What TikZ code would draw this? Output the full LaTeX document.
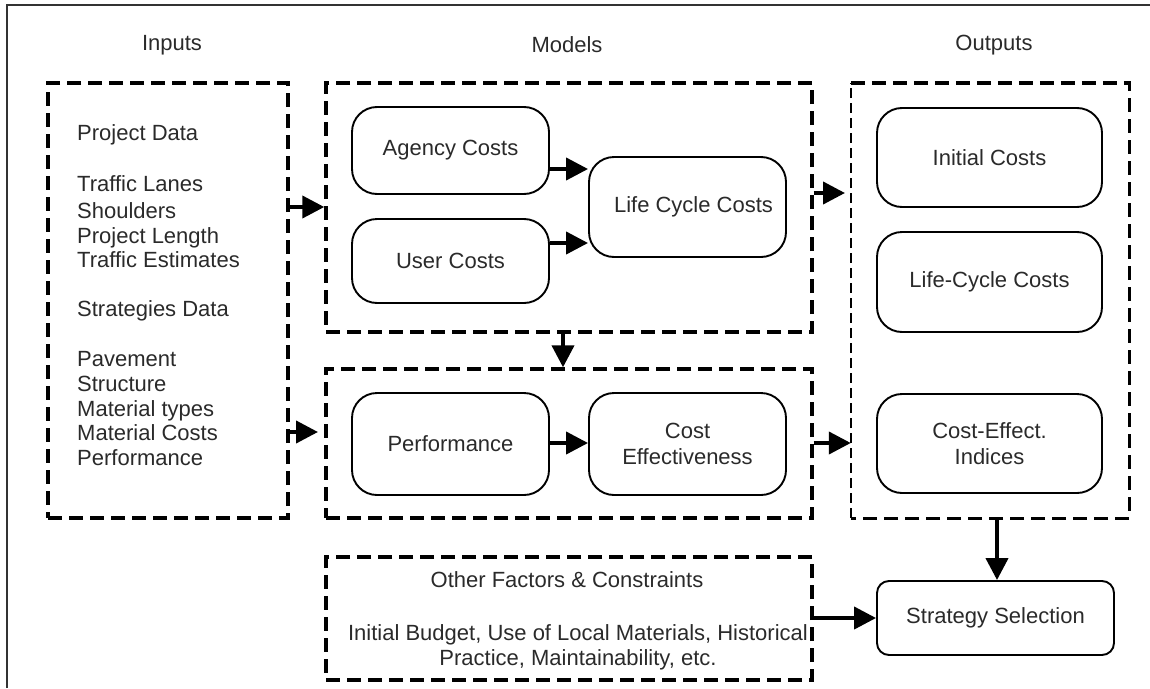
\documentclass[tikz,border=0pt]{standalone}
\usepackage{fontspec}
\setmainfont{Liberation Sans}
\usetikzlibrary{arrows.meta}
\definecolor{txt}{HTML}{2A2A2A}
\begin{document}
\begin{tikzpicture}[x=1pt,y=-1pt,
  every node/.style={font=\fontsize{22}{26}\selectfont, text=txt},
  dbox/.style={draw=black, line width=3.4pt, dash pattern=on 14pt off 7pt, inner sep=0pt},
  rbox/.style={draw=black, line width=1.9pt, rounded corners=25pt, inner sep=2pt, align=center},
  arr/.style={line width=4pt, -{Triangle[length=22pt,width=22pt]}},
  inl/.style={anchor=base west, inner sep=0pt},
  hdr/.style={inner sep=0pt}]
\useasboundingbox (0,0) rectangle (1150,688);
% frame
\draw[line width=2pt, black!80] (7,688) -- (7,5) -- (1150,5);

% headers
\node[hdr] (hin) at (172,45) {Inputs};
\node[hdr] (hmod) at (567,45) {Models};
\node[hdr] (hout) at (994,45) {Outputs};

% dashed containers
\node[dbox, minimum width=240pt, minimum height=435pt] (inputs) at (168,300.5) {};
\node[dbox, minimum width=486pt, minimum height=249pt] (modtop) at (569,207.5) {};
\node[dbox, minimum width=486pt, minimum height=149pt] (modbot) at (569,443.5) {};
\node[dbox, minimum width=486pt, minimum height=123pt] (other) at (569,618.5) {};
\node[inner sep=0pt, minimum width=278pt, minimum height=435pt] (outputs) at (990,300.5) {};
\draw[dbox] (outputs.north west) -- (outputs.north east) -- (outputs.south east) -- (outputs.south west);
\draw[line width=1.4pt, dash pattern=on 10pt off 5pt] (outputs.south west) -- (outputs.north west);

% inputs text
\node[inl] (i1) at (77,140) {Project Data};
\node[inl] (i2) at (77,191) {Traffic Lanes};
\node[inl] (i3) at (77,218) {Shoulders};
\node[inl] (i4) at (77,243) {Project Length};
\node[inl] (i5) at (77,267) {Traffic Estimates};
\node[inl] (i6) at (77,316) {Strategies Data};
\node[inl] (i7) at (77,366) {Pavement};
\node[inl] (i8) at (77,391) {Structure};
\node[inl] (i9) at (77,416) {Material types};
\node[inl] (i10) at (77,440) {Material Costs};
\node[inl] (i11) at (77,465) {Performance};

% model boxes
\node[rbox, minimum width=197pt, minimum height=87pt] (agency) at (450.5,150.5) {Agency Costs};
\node[rbox, minimum width=197pt, minimum height=84pt] (user) at (450.5,261) {User Costs};
\node[rbox, minimum width=197pt, minimum height=100pt] (lcc) at (687.5,207) {\hspace*{12pt}Life Cycle Costs};
\node[rbox, minimum width=197pt, minimum height=102pt] (perf) at (450.5,444) {Performance};
\node[rbox, minimum width=197pt, minimum height=102pt] (ce) at (687.5,444) {Cost\\Effectiveness};

% output boxes
\node[rbox, minimum width=225pt, minimum height=99pt] (init) at (989.5,157.5) {Initial Costs};
\node[rbox, minimum width=225pt, minimum height=100pt] (lcc2) at (989.5,282) {Life-Cycle Costs};
\node[rbox, minimum width=225pt, minimum height=99pt] (cei) at (989.5,443.5) {Cost-Effect.\\Indices};
\node[rbox, rounded corners=12pt, minimum width=237pt, minimum height=74pt] (strat) at (995.5,618) {Strategy Selection};

% other factors text
\node[hdr] (of1) at (567,580) {Other Factors \& Constraints};
\node[hdr, align=center] (of2) at (578,647) {Initial Budget, Use of Local Materials, Historical\\[-1pt]Practice, Maintainability, etc.};

% helper coordinates
\coordinate (c1) at (0,207);
\coordinate (c2) at (0,432);
\coordinate (c3) at (0,169);
\coordinate (c4) at (0,243);
\coordinate (c5) at (0,193);
\coordinate (c6) at (0,443);
\coordinate (c7) at (563,0);
\coordinate (c8) at (997,0);
\coordinate (t1) at (845,193);
\coordinate (t2) at (318,432);

% connectors
\draw[arr] (inputs.east |- c1) -- (modtop.west |- c1);
\draw[arr] (inputs.east |- c2) -- (t2);
\draw[arr] (agency.east |- c3) -- (lcc.west |- c3);
\draw[arr] (user.east |- c4) -- (lcc.west |- c4);
\draw[arr] (modtop.east |- c5) -- (t1);
\draw[arr] (modbot.east |- c6) -- (outputs.west |- c6);
\draw[arr] (perf.east |- c6) -- (ce.west |- c6);
\draw[arr] (modtop.south -| c7) -- (modbot.north -| c7);
\draw[arr] (outputs.south -| c8) -- (strat.north -| c8);
\draw[arr] (other.east |- strat.west) -- (strat.west);
\end{tikzpicture}
\end{document}
